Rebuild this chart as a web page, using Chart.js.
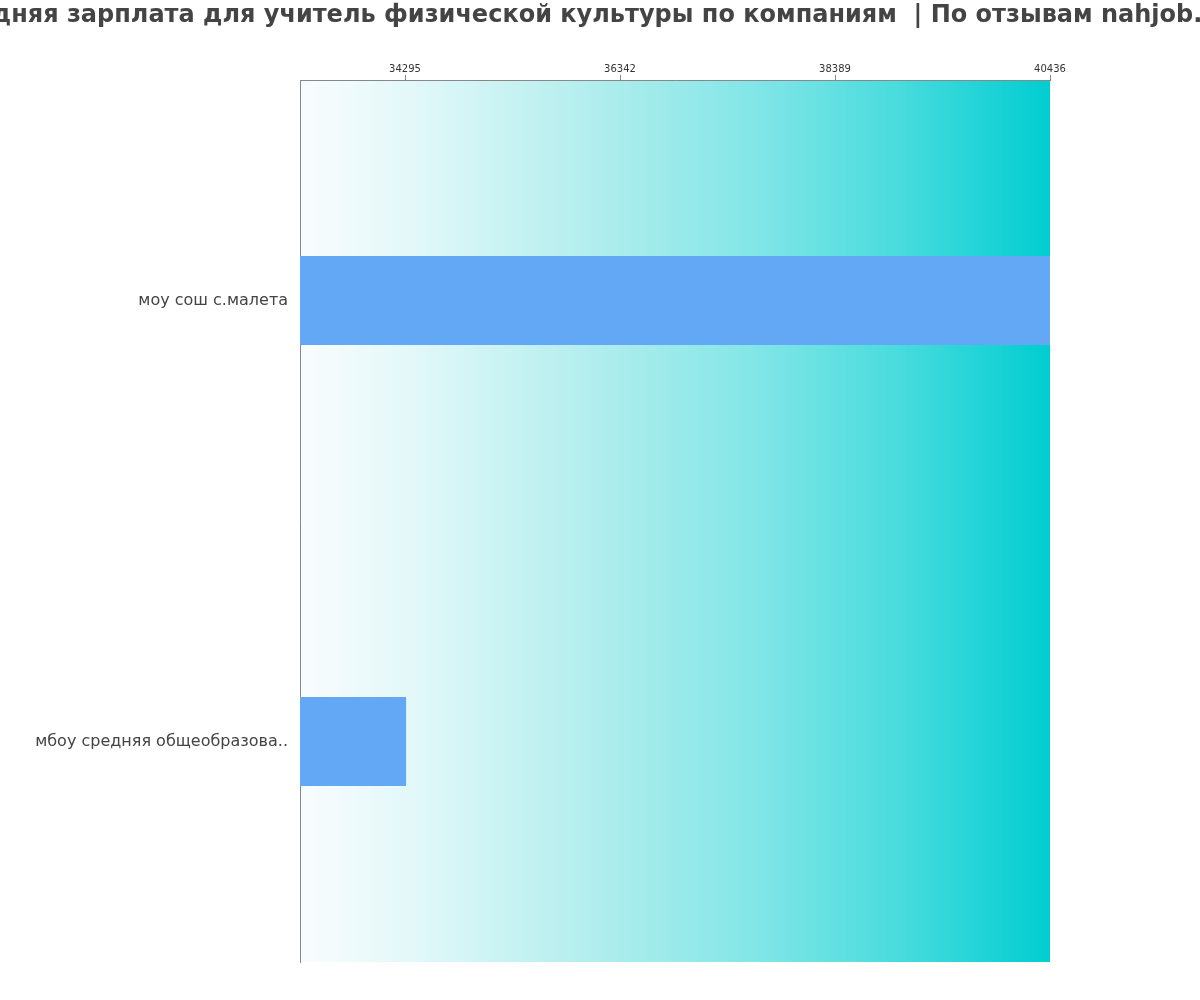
<!DOCTYPE html>
<html>
<head>
<meta charset="utf-8">
<script src="https://cdn.jsdelivr.net/npm/chart.js@4"></script>
<style>
html,body{margin:0;padding:0;background:#fff;overflow:hidden;}
#wrap{width:1200px;height:1000px;position:relative;overflow:hidden;}
#title{position:absolute;top:0px;left:586px;transform:translateX(-50%);white-space:pre;
  font:bold 24px 'DejaVu Sans';line-height:28px;color:#444444;z-index:2;}
</style>
</head>
<body>
<div id="wrap"><div id="title"></div><canvas id="c"></canvas></div>
<script>
const titleText = "Средняя зарплата для учитель физической культуры по компаниям  | По отзывам nahjob.ru";
const categories = ["моу сош с.малета", "мбоу средняя общеобразова.."];
const salaries = [40436, 34305];
const tickValues = [34295, 36342, 38389, 40436];
const axisMin = 33295;
const axisMax = 40436;

document.getElementById('title').textContent = titleText;

const bgPlugin = {
  id: 'bgGradient',
  beforeDraw(chart) {
    const {ctx, chartArea: a} = chart;
    const g = ctx.createLinearGradient(a.left, 0, a.right, 0);
    g.addColorStop(0, '#f9fcfe');
    g.addColorStop(0.15, '#e2f8f9');
    g.addColorStop(0.4, '#b0eded');
    g.addColorStop(0.6, '#84e6e7');
    g.addColorStop(0.8, '#48dbdd');
    g.addColorStop(1, '#00cdd0');
    ctx.save();
    ctx.fillStyle = g;
    ctx.fillRect(a.left, a.top, a.right - a.left, a.bottom - a.top);
    ctx.restore();
  }
};

new Chart(document.getElementById('c'), {
  type: 'bar',
  data: {
    labels: categories,
    datasets: [{
      data: salaries,
      backgroundColor: '#62a8f4',
      borderWidth: 0,
      categoryPercentage: 1,
      barPercentage: 0.202
    }]
  },
  options: {
    indexAxis: 'y',
    responsive: true,
    maintainAspectRatio: false,
    devicePixelRatio: 1,
    animation: false,
    layout: {padding: {left: 0, right: 150, top: 28, bottom: 38}},
    plugins: {
      legend: {display: false},
      tooltip: {enabled: false},
      title: {display: false}
    },
    scales: {
      x: {
        position: 'top',
        min: axisMin,
        max: axisMax,
        afterBuildTicks(scale) {
          scale.ticks = tickValues.map(v => ({value: v}));
        },
        afterFit(scale) { scale.height = 52; },
        ticks: {
          callback: v => String(v),
          color: '#333333',
          font: {family: 'DejaVu Sans', size: 10},
          padding: 0,
          maxRotation: 0,
          autoSkip: false
        },
        grid: {display: true, drawOnChartArea: false, drawTicks: true, tickLength: 5, color: '#888888'},
        border: {display: true, color: '#888888', width: 1}
      },
      y: {
        afterFit(scale) { scale.width = 300; },
        ticks: {
          color: '#444444',
          font: {family: 'DejaVu Sans', size: 16},
          padding: 12
        },
        grid: {display: false, drawTicks: false},
        border: {display: true, color: '#888888', width: 1}
      }
    }
  },
  plugins: [bgPlugin]
});
</script>
</body>
</html>
